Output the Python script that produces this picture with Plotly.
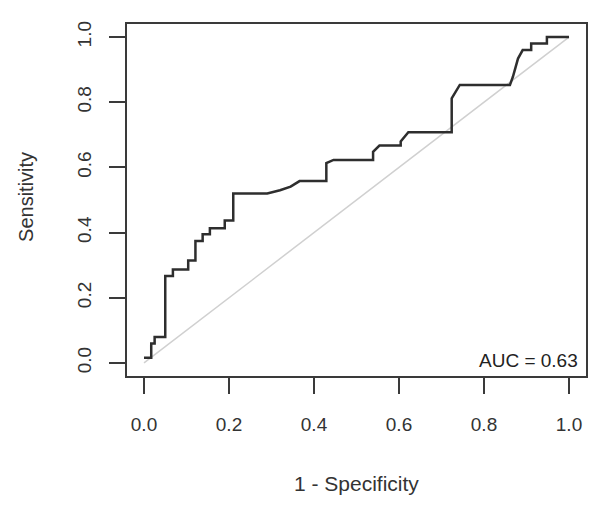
import plotly.graph_objects as go

# ROC curve vertices (1 - specificity, sensitivity)
fpr = [0.0, 0.017, 0.017, 0.025, 0.025, 0.05, 0.05, 0.068, 0.068, 0.104, 0.104,
       0.121, 0.121, 0.138, 0.138, 0.155, 0.155, 0.19, 0.19, 0.21, 0.21, 0.29,
       0.32, 0.345, 0.366, 0.429, 0.429, 0.446, 0.539, 0.539, 0.554, 0.604,
       0.604, 0.622, 0.724, 0.724, 0.743, 0.861, 0.868, 0.88, 0.891, 0.911,
       0.911, 0.948, 0.948, 1.0]
tpr = [0.016, 0.016, 0.06, 0.06, 0.08, 0.08, 0.267, 0.267, 0.287, 0.287, 0.314,
       0.314, 0.374, 0.374, 0.395, 0.395, 0.413, 0.413, 0.437, 0.437, 0.52, 0.52,
       0.53, 0.541, 0.558, 0.558, 0.613, 0.623, 0.623, 0.648, 0.667, 0.667,
       0.68, 0.708, 0.708, 0.812, 0.853, 0.853, 0.878, 0.934, 0.960, 0.960,
       0.98, 0.98, 1.0, 1.0]
diag = [0.0, 1.0]
ticks = [0.0, 0.2, 0.4, 0.6, 0.8, 1.0]
tick_text = ["0.0", "0.2", "0.4", "0.6", "0.8", "1.0"]
auc_label = "AUC = 0.63"

FONT = "Liberation Sans, Arial, sans-serif"

fig = go.Figure()
fig.add_trace(go.Scatter(x=diag, y=diag, mode="lines",
                         line=dict(color="#d0d0d0", width=1.5), hoverinfo="skip"))
fig.add_trace(go.Scatter(x=fpr, y=tpr, mode="lines",
                         line=dict(color="#2e2e2e", width=2.5)))

axis_common = dict(
    showgrid=False, zeroline=False, showline=True, mirror=True,
    linecolor="#3a3a3a", linewidth=2, automargin=False,
    ticks="outside", ticklen=16, tickwidth=2, tickcolor="#3a3a3a",
    tickvals=ticks, ticktext=tick_text,
    tickfont=dict(family=FONT, size=19, color="#333333"),
)

fig.update_xaxes(range=[-0.04, 1.04], **axis_common, ticklabelstandoff=14)
fig.update_yaxes(range=[-0.04, 1.04], tickangle=-90, **axis_common, ticklabelstandoff=10)

fig.add_annotation(x=1.0, y=0.0, xref="x", yref="y", text=auc_label, showarrow=False,
                   xanchor="right", yanchor="middle", yshift=2, xshift=11,
                   font=dict(family=FONT, size=19, color="#222222"))
fig.add_annotation(x=0.5, y=-0.305, xref="x domain", yref="paper",
                   text="1 - Specificity", showarrow=False,
                   xanchor="center", yanchor="middle",
                   font=dict(family=FONT, size=21, color="#333333"))
fig.add_annotation(x=-0.219, y=0.51, xref="paper", yref="y domain",
                   text="Sensitivity", showarrow=False, textangle=-90,
                   xanchor="center", yanchor="middle",
                   font=dict(family=FONT, size=20, color="#333333"))

# the page body adds an 8px offset, so margins compensate for it
fig.update_layout(
    width=600, height=507,
    margin=dict(l=119, r=22, t=16, b=139),
    plot_bgcolor="white", paper_bgcolor="white",
    showlegend=False,
)

fig.write_html("out.html")
